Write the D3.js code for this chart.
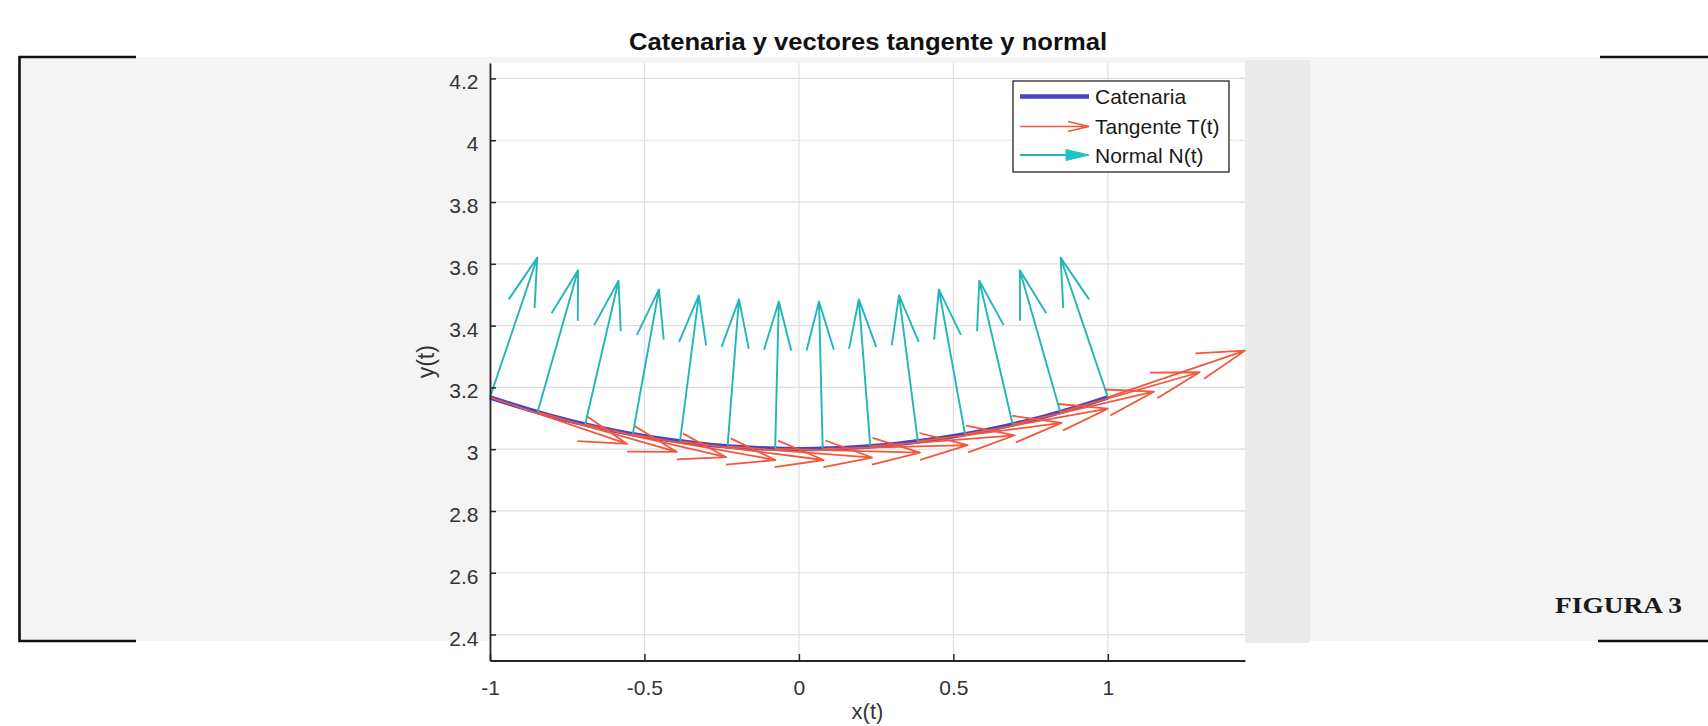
<!DOCTYPE html>
<html><head><meta charset="utf-8">
<script src="https://cdn.jsdelivr.net/npm/d3@7"></script>
<style>
body{margin:0;background:#fff}
svg{display:block}
</style>
</head><body>
<svg id="c" width="1708" height="726" font-family="'Liberation Sans',Arial,Helvetica,sans-serif"></svg>
<script>
// ---- data ----
const titleText = "Catenaria y vectores tangente y normal";
const xLabel = "x(t)";
const yLabel = "y(t)";
const xTicks = [-1, -0.5, 0, 0.5, 1];
const xTickLabels = ["-1", "-0.5", "0", "0.5", "1"];
const yTicks = [2.4, 2.6, 2.8, 3, 3.2, 3.4, 3.6, 3.8, 4, 4.2];
const yTickLabels = ["2.4", "2.6", "2.8", "3", "3.2", "3.4", "3.6", "3.8", "4", "4.2"];

// catenary curve
const curveX = [-1, -0.9, -0.8, -0.7, -0.6, -0.5, -0.4, -0.3, -0.2, -0.1, 0, 0.1, 0.2, 0.3, 0.4, 0.5, 0.6, 0.7, 0.8, 0.9, 1];
const curveY = [3.168, 3.136, 3.107, 3.082, 3.060, 3.042, 3.027, 3.015, 3.007, 3.002, 3.000, 3.002, 3.007, 3.015, 3.027, 3.042, 3.060, 3.082, 3.107, 3.136, 3.168];

// quiver base points
const ptX = [-1, -0.846, -0.692, -0.538, -0.385, -0.231, -0.077, 0.077, 0.231, 0.385, 0.538, 0.692, 0.846, 1];
const ptY = [3.168, 3.120, 3.080, 3.048, 3.025, 3.009, 3.001, 3.001, 3.009, 3.025, 3.048, 3.080, 3.120, 3.168];

// tangent vectors T(t)
const tanU = [0.444, 0.451, 0.457, 0.462, 0.465, 0.468, 0.469, 0.469, 0.468, 0.465, 0.462, 0.457, 0.451, 0.444];
const tanV = [-0.151, -0.129, -0.106, -0.083, -0.060, -0.036, -0.012, 0.012, 0.036, 0.060, 0.083, 0.106, 0.129, 0.151];

// normal vectors N(t)
const norU = [0.153, 0.131, 0.108, 0.085, 0.061, 0.037, 0.012, -0.012, -0.037, -0.061, -0.085, -0.108, -0.131, -0.153];
const norV = [0.452, 0.459, 0.465, 0.469, 0.473, 0.476, 0.477, 0.477, 0.476, 0.473, 0.469, 0.465, 0.459, 0.452];

const legendLabels = ["Catenaria", "Tangente T(t)", "Normal N(t)"];
const figureLabel = "FIGURA 3";

// ---- styles ----
const colCat = "#4a44c4", colTan = "#f2583c", colNor = "#22b6b6";
const axisCol = "#262626", gridCol = "#dedede";

const svg = d3.select("#c");

// page decorations
svg.append("rect").attr("x", 19).attr("y", 57).attr("width", 1708 - 19).attr("height", 641 - 57).attr("fill", "#f4f4f4");
svg.append("rect").attr("x", 1245).attr("y", 60).attr("width", 65).attr("height", 643 - 60).attr("fill", "#ebebeb");

// scales (equal aspect)
const x = d3.scaleLinear().domain([-1, 1.444]).range([490, 1245]);
const y = d3.scaleLinear().domain([2.316, 4.25]).range([660.5, 63]);

// plot background
svg.append("rect").attr("x", x.range()[0]).attr("y", y.range()[1])
  .attr("width", x.range()[1] - x.range()[0]).attr("height", y.range()[0] - y.range()[1]).attr("fill", "#fff");

// grid
const g = svg.append("g");
g.selectAll(".gx").data(xTicks).join("line")
  .attr("x1", d => x(d)).attr("x2", d => x(d)).attr("y1", y.range()[0]).attr("y2", y.range()[1])
  .attr("stroke", gridCol).attr("stroke-width", 1.2);
g.selectAll(".gy").data(yTicks).join("line")
  .attr("x1", x.range()[0]).attr("x2", x.range()[1]).attr("y1", d => y(d)).attr("y2", d => y(d))
  .attr("stroke", gridCol).attr("stroke-width", 1.2);

// catenary
const curveData = curveX.map((v, i) => [v, curveY[i]]);
svg.append("path").datum(curveData)
  .attr("d", d3.line().x(d => x(d[0])).y(d => y(d[1])).curve(d3.curveCatmullRom))
  .attr("fill", "none").attr("stroke", colCat).attr("stroke-width", 4.5).attr("stroke-linecap", "butt");

// arrows
const alpha = 0.33, beta = 0.28;
function arrowPath(x0, y0, x1, y1) {
  const ux = x1 - x0, uy = y1 - y0;
  const px = -uy, py = ux;
  const h1x = x1 - alpha * (ux + beta * px), h1y = y1 - alpha * (uy + beta * py);
  const h2x = x1 - alpha * (ux - beta * px), h2y = y1 - alpha * (uy - beta * py);
  return `M${x0},${y0}L${x1},${y1}M${h1x},${h1y}L${x1},${y1}L${h2x},${h2y}`;
}
const idx = d3.range(ptX.length);
svg.append("g").selectAll("path").data(idx).join("path")
  .attr("d", i => arrowPath(x(ptX[i]), y(ptY[i]), x(ptX[i] + tanU[i]), y(ptY[i] + tanV[i])))
  .attr("fill", "none").attr("stroke", colTan).attr("stroke-width", 1.8).attr("stroke-linejoin", "round");
svg.append("g").selectAll("path").data(idx).join("path")
  .attr("d", i => arrowPath(x(ptX[i]), y(ptY[i]), x(ptX[i] + norU[i]), y(ptY[i] + norV[i])))
  .attr("fill", "none").attr("stroke", colNor).attr("stroke-width", 1.9).attr("stroke-linejoin", "round");

// axes
const xAxis = d3.axisBottom(x).tickValues(xTicks).tickFormat((d, i) => xTickLabels[i])
  .tickSizeInner(-6.5).tickSizeOuter(0).tickPadding(19.5);
const yAxis = d3.axisLeft(y).tickValues(yTicks).tickFormat((d, i) => yTickLabels[i])
  .tickSizeInner(-6).tickSizeOuter(0).tickPadding(11.5);
const gx = svg.append("g").attr("transform", `translate(0,${y.range()[0]})`).call(xAxis);
const gy = svg.append("g").attr("transform", `translate(${x.range()[0]},0)`).call(yAxis);
[gx, gy].forEach(a => {
  a.attr("font-family", "'Liberation Sans',Arial,sans-serif").attr("font-size", 21);
  a.select(".domain").attr("stroke", axisCol).attr("stroke-width", 1.8);
  a.selectAll(".tick line").attr("stroke", axisCol).attr("stroke-width", 1.5);
  a.selectAll(".tick text").attr("fill", "#333");
});
gy.selectAll(".tick text").attr("dy", "0.5em");

// axis labels
svg.append("text").attr("x", (x.range()[0] + x.range()[1]) / 2).attr("y", 719)
  .attr("text-anchor", "middle").attr("font-size", 22).attr("fill", "#333").text(xLabel);
svg.append("text").attr("transform", `translate(434,${(y.range()[0] + y.range()[1]) / 2}) rotate(-90)`)
  .attr("text-anchor", "middle").attr("font-size", 23).attr("fill", "#333").text(yLabel);

// title
svg.append("text").attr("x", 868).attr("y", 50).attr("text-anchor", "middle")
  .attr("font-size", 24).attr("font-weight", "bold").attr("fill", "#111")
  .attr("textLength", 478).attr("lengthAdjust", "spacingAndGlyphs").text(titleText);

// legend
const lg = svg.append("g");
lg.append("rect").attr("x", 1013).attr("y", 81).attr("width", 216).attr("height", 91)
  .attr("fill", "#fff").attr("stroke", axisCol).attr("stroke-width", 1.3);
const rowY = [96.5, 126.5, 155];
lg.append("line").attr("x1", 1020).attr("x2", 1089).attr("y1", rowY[0]).attr("y2", rowY[0])
  .attr("stroke", colCat).attr("stroke-width", 4.5);
lg.append("path").attr("d", `M1020,${rowY[1]}H1089M1068,${rowY[1] - 5}L1089,${rowY[1]}L1068,${rowY[1] + 5}`)
  .attr("fill", "none").attr("stroke", colTan).attr("stroke-width", 1.7);
lg.append("path").attr("d", `M1020,${rowY[2]}H1072`)
  .attr("fill", "none").attr("stroke", colNor).attr("stroke-width", 1.9);
lg.append("path").attr("d", `M1066,${rowY[2] - 5.5}L1089,${rowY[2]}L1066,${rowY[2] + 5.5}Z`)
  .attr("fill", "#1fc4c4").attr("stroke", "#1fc4c4").attr("stroke-width", 1);
lg.selectAll("text.lt").data(legendLabels).join("text")
  .attr("x", 1095).attr("y", (d, i) => rowY[i] + 7.5).attr("font-size", 21).attr("fill", "#1a1a1a").text(d => d);

// brackets
const br = "#111";
svg.append("path").attr("d", "M136,57H19.5V641H136").attr("fill", "none").attr("stroke", br).attr("stroke-width", 2.6);
svg.append("path").attr("d", "M1600,57H1708M1598,641H1708").attr("fill", "none").attr("stroke", br).attr("stroke-width", 2.6);

// figure label (serif)
svg.append("text").attr("x", 1555).attr("y", 613)
  .style("font-family", "'Liberation Serif','DejaVu Serif','Times New Roman',serif")
  .attr("font-weight", "bold").attr("font-size", 23).attr("fill", "#1a1a1a")
  .attr("textLength", 127).attr("lengthAdjust", "spacingAndGlyphs").text(figureLabel);
</script>
</body></html>
